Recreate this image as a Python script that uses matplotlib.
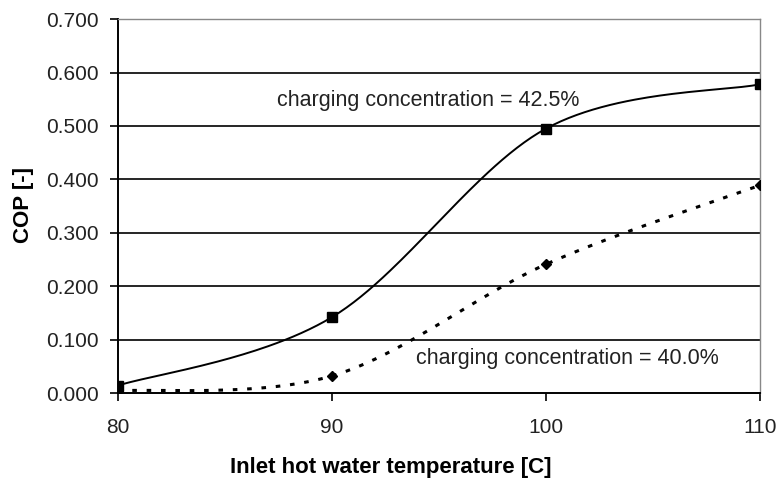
import matplotlib.pyplot as plt
import numpy as np

plt.rcParams['font.family'] = ['Liberation Sans', 'DejaVu Sans']

temps = [80, 90, 100, 110]
cop_425 = [0.014, 0.142, 0.495, 0.578]
cop_400 = [0.004, 0.032, 0.241, 0.389]
y_ticks = [0.0, 0.1, 0.2, 0.3, 0.4, 0.5, 0.6, 0.7]
x_ticks = [80, 90, 100, 110]


def smooth(xs, ys, n=60):
    # bezier smoothing like a spreadsheet "smoothed line"
    p = np.column_stack([xs, ys]).astype(float)
    p = np.vstack([p[0], p, p[-1]])
    out = []
    for i in range(1, len(p) - 2):
        p0, p1, p2, p3 = p[i - 1], p[i], p[i + 1], p[i + 2]
        c1 = p1 + (p2 - p0) / 6.0
        c2 = p2 - (p3 - p1) / 6.0
        t = np.linspace(0, 1, n)[:, None]
        seg = ((1 - t) ** 3) * p1 + 3 * ((1 - t) ** 2) * t * c1 + 3 * (1 - t) * t ** 2 * c2 + t ** 3 * p2
        out.append(seg if i == 1 else seg[1:])
    seg = np.vstack(out)
    return seg[:, 0], seg[:, 1]


fig = plt.figure(figsize=(7.81, 4.79), dpi=100)
ax = fig.add_axes([0.151, 0.1795, 0.822, 0.7805])

for v in y_ticks[1:-1]:
    ax.axhline(v, color='black', lw=1.2, zorder=1)

sx, sy = smooth(temps, cop_425)
ax.plot(sx, sy, color='black', lw=1.4, zorder=3)
ax.plot(temps, cop_425, 's', color='black', ms=6.5, zorder=4)

dx, dy = smooth(temps, cop_400)
ax.plot(dx, dy, color='black', lw=2.2, linestyle=(0, (1.5, 3.2)), zorder=3)
ax.plot(temps, cop_400, 'D', color='black', ms=5, zorder=4)

ax.text(87.43, 0.547, 'charging concentration = 42.5%', va='center', ha='left',
        fontsize=15.5, color='#222222')
ax.text(93.93, 0.0655, 'charging concentration = 40.0%', va='center', ha='left',
        fontsize=15.5, color='#222222')

ax.set_xlim(80, 110)
ax.set_ylim(0, 0.7)
ax.set_xticks(x_ticks)
ax.set_yticks(y_ticks)
ax.set_yticklabels(['%.3f' % v for v in y_ticks])
ax.tick_params(axis='both', direction='out', length=6, width=1.2, labelsize=15,
               colors='black', labelcolor='#222222')
ax.tick_params(axis='x', pad=12)
ax.tick_params(axis='y', pad=8)

for s in ['left', 'bottom']:
    ax.spines[s].set_linewidth(1.4)
for s in ['top', 'right']:
    ax.spines[s].set_color('#888888')
    ax.spines[s].set_linewidth(1.0)

ax.set_xlabel('Inlet hot water temperature [C]', fontsize=16, fontweight='bold', va='center')
ax.set_ylabel('COP [-]', fontsize=16, fontweight='bold', va='center')
ax.xaxis.set_label_coords(0.5, 1 - 468 / 479, transform=fig.transFigure)
ax.yaxis.set_label_coords(23 / 781, 1 - 205 / 479, transform=fig.transFigure)

fig.savefig('out.png', dpi=100)
